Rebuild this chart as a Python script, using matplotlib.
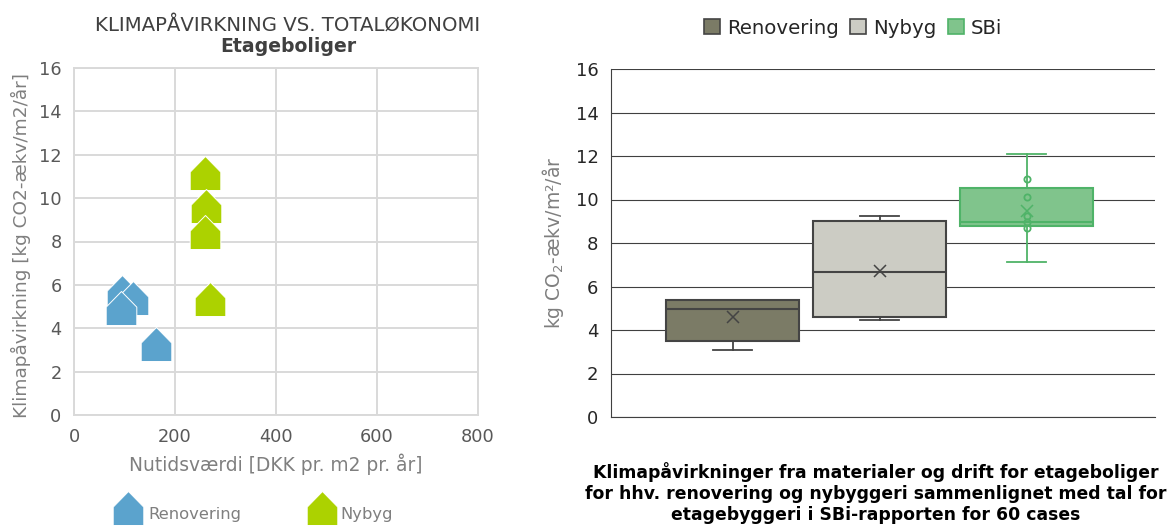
import numpy as np
import matplotlib
matplotlib.use('Agg')
import matplotlib.pyplot as plt
from matplotlib.path import Path
from matplotlib.lines import Line2D
from matplotlib.patches import Patch

#%% data
reno_x = [95, 117, 93, 162]
reno_y = [5.68, 5.41, 4.95, 3.28]
nybyg_x = [259, 261, 259, 269]
nybyg_y = [11.18, 9.65, 8.45, 5.37]

box_labels = ['Renovering', 'Nybyg', 'SBi']
box_low = [3.08, 4.46, 7.13]
box_q1 = [3.5, 4.6, 8.78]
box_med = [4.97, 6.67, 8.97]
box_q3 = [5.38, 9.0, 10.53]
box_high = [5.38, 9.24, 12.09]
box_mean = [4.6, 6.7, 9.45]
box_fliers = [[], [], [10.94, 10.1, 9.24, 8.97, 8.69]]

box_fill = ['#7b7b66', '#ccccc4', '#80c48c']
box_edge = ['#444444', '#444444', '#4fb368']

W, H = 1170, 526
house = Path([(-0.9, -1), (0.9, -1), (0.9, 0.08), (0, 1), (-0.9, 0.08), (-0.9, -1)], closed=True)
blue = '#5ba3cd'
green = '#acd200'
grey = '#7f7f7f'


def px_axes(x0, x1, ytop, ybot):
    return fig.add_axes([x0 / W, 1 - ybot / H, (x1 - x0) / W, (ybot - ytop) / H])


fig = plt.figure(figsize=(W / 100, H / 100), dpi=100)

#%% left scatter
ax = px_axes(74, 478, 68, 415)
ax.scatter(reno_x, reno_y, marker=house, s=24.5**2, c=blue, edgecolors='white', linewidths=0.7, zorder=3, clip_on=False)
ax.scatter(nybyg_x, nybyg_y, marker=house, s=24.5**2, c=green, edgecolors='white', linewidths=0.7, zorder=3, clip_on=False)
ax.set_xlim(0, 800)
ax.set_ylim(0, 16)
ax.set_xticks(np.arange(0, 801, 200))
ax.set_yticks(np.arange(0, 17, 2))
ax.grid(color='#d9d9d9', lw=1.4)
ax.set_axisbelow(True)
for s in ax.spines.values():
    s.set_color('#d9d9d9')
    s.set_linewidth(1.4)
ax.tick_params(length=0, labelsize=12.8, labelcolor='#595959', pad=9)
ax.set_xlabel('Nutidsværdi [DKK pr. m2 pr. år]', fontsize=13.4, color=grey, labelpad=6)
ax.set_ylabel('Klimapåvirkning [kg CO2-ækv/m2/år]', fontsize=13.3, color=grey, labelpad=6, y=0.488)
fig.text(288 / W, 1 - 25 / H, 'KLIMAPÅVIRKNING VS. TOTALØKONOMI', ha='center', va='center', fontsize=14.2, color='#404040')
fig.text(288 / W, 1 - 46 / H, 'Etageboliger', ha='center', va='center', fontsize=13.6, color='#404040', fontweight='bold')

# legend keys placed by hand, text sits lower than the marker centre
for cx, tx, col, lab in [(128, 148, blue, 'Renovering'), (322, 340, green, 'Nybyg')]:
    fig.add_artist(Line2D([cx / W], [1 - 508 / H], ls='none', marker=house, ms=24.5, color=col, mec='white', mew=0.7,
                          transform=fig.transFigure, clip_on=False))
    fig.text(tx / W, 1 - 514 / H, lab, ha='left', va='center', fontsize=11.8, color=grey)

#%% right boxplot
ax2 = px_axes(611, 1155, 69, 417)
stats = []
for i in range(3):
    stats.append(dict(whislo=box_low[i], q1=box_q1[i], med=box_med[i], q3=box_q3[i], whishi=box_high[i],
                      mean=box_mean[i], fliers=box_fliers[i]))
for i in range(3):
    e = box_edge[i]
    ax2.bxp([stats[i]], positions=[i + 1], widths=0.91, showmeans=True, patch_artist=True, zorder=3,
            boxprops=dict(facecolor=box_fill[i], edgecolor=e, linewidth=1.5),
            medianprops=dict(color=e, linewidth=1.5),
            whiskerprops=dict(color=e, linewidth=1.3),
            capprops=dict(color=e, linewidth=1.3),
            capwidths=0.27,
            meanprops=dict(marker='x', markeredgecolor=e, markersize=9, markeredgewidth=1.1),
            flierprops=dict(marker='o', markerfacecolor='none', markeredgecolor=e, markersize=4.5, markeredgewidth=1.3))
ax2.set_xlim(0.173, 3.874)
ax2.set_ylim(0, 16)
ax2.set_yticks(np.arange(0, 17, 2))
ax2.set_xticks([])
ax2.grid(axis='y', color='#404040', lw=0.8)
ax2.set_axisbelow(True)
ax2.spines['top'].set_visible(False)
ax2.spines['right'].set_visible(False)
ax2.spines['left'].set_color('#404040')
ax2.spines['bottom'].set_color('#404040')
ax2.spines['left'].set_linewidth(0.8)
ax2.spines['bottom'].set_linewidth(0.8)
ax2.tick_params(length=0, labelsize=13, labelcolor='#262626', pad=9)
ax2.set_ylabel('kg CO$_2$-ækv/m²/år', fontsize=13.5, color=grey, labelpad=7)

handles = [Patch(facecolor=box_fill[i], edgecolor=box_edge[i], lw=1.2, label=box_labels[i]) for i in range(3)]
fig.legend(handles=handles, ncol=3, frameon=False, fontsize=14.2, labelcolor='#262626', loc='center',
           bbox_to_anchor=(853 / W, 1 - 28 / H), handlelength=0.8, handleheight=0.8, handletextpad=0.35,
           columnspacing=0.6, borderpad=0, borderaxespad=0)

fig.text(876 / W, 1 - 493 / H,
         'Klimapåvirkninger fra materialer og drift for etageboliger\n'
         'for hhv. renovering og nybyggeri sammenlignet med tal for\n'
         'etagebyggeri i SBi-rapporten for 60 cases',
         ha='center', va='center', fontsize=12.45, fontweight='bold', color='black', linespacing=1.2)

plt.savefig('out.png', dpi=100)
